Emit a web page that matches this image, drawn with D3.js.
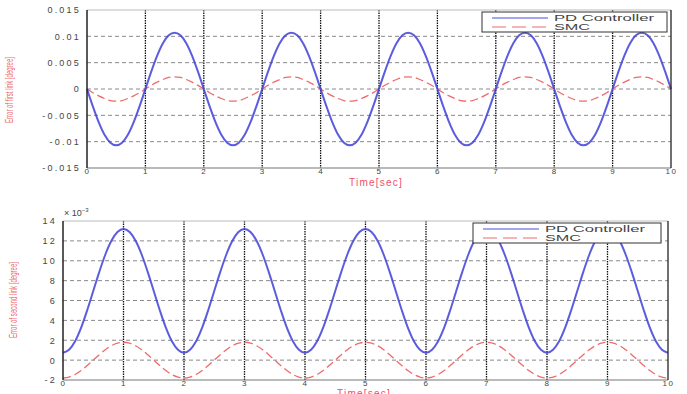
<!DOCTYPE html>
<html>
<head>
<meta charset="utf-8">
<script src="https://cdn.jsdelivr.net/npm/d3@7"></script>
<style>
  body { margin: 0; background: #fff; }
  svg text { font-family: "Liberation Sans", Arial, sans-serif; }
</style>
</head>
<body>
<script>
// time samples, 0..10 s step 0.1
var timeSec = d3.range(0, 101).map(function(i){ return i / 10; });

// error of first link (degree)
var pdLink1 = [
  0, -0.0033, -0.0063, -0.0087, -0.0102, -0.0107, -0.0102, -0.0087, -0.0063, -0.0033,
  0, 0.0033, 0.0063, 0.0087, 0.0102, 0.0107, 0.0102, 0.0087, 0.0063, 0.0033,
  0, -0.0033, -0.0063, -0.0087, -0.0102, -0.0107, -0.0102, -0.0087, -0.0063, -0.0033,
  0, 0.0033, 0.0063, 0.0087, 0.0102, 0.0107, 0.0102, 0.0087, 0.0063, 0.0033,
  0, -0.0033, -0.0063, -0.0087, -0.0102, -0.0107, -0.0102, -0.0087, -0.0063, -0.0033,
  0, 0.0033, 0.0063, 0.0087, 0.0102, 0.0107, 0.0102, 0.0087, 0.0063, 0.0033,
  0, -0.0033, -0.0063, -0.0087, -0.0102, -0.0107, -0.0102, -0.0087, -0.0063, -0.0033,
  0, 0.0033, 0.0063, 0.0087, 0.0102, 0.0107, 0.0102, 0.0087, 0.0063, 0.0033,
  0, -0.0033, -0.0063, -0.0087, -0.0102, -0.0107, -0.0102, -0.0087, -0.0063, -0.0033,
  0, 0.0033, 0.0063, 0.0087, 0.0102, 0.0107, 0.0102, 0.0087, 0.0063, 0.0033,
  0
];
var smcLink1 = [
  0, -0.0007, -0.0013, -0.0018, -0.0022, -0.0023, -0.0022, -0.0018, -0.0013, -0.0007,
  0, 0.0007, 0.0013, 0.0018, 0.0022, 0.0023, 0.0022, 0.0018, 0.0013, 0.0007,
  0, -0.0007, -0.0013, -0.0018, -0.0022, -0.0023, -0.0022, -0.0018, -0.0013, -0.0007,
  0, 0.0007, 0.0013, 0.0018, 0.0022, 0.0023, 0.0022, 0.0018, 0.0013, 0.0007,
  0, -0.0007, -0.0013, -0.0018, -0.0022, -0.0023, -0.0022, -0.0018, -0.0013, -0.0007,
  0, 0.0007, 0.0013, 0.0018, 0.0022, 0.0023, 0.0022, 0.0018, 0.0013, 0.0007,
  0, -0.0007, -0.0013, -0.0018, -0.0022, -0.0023, -0.0022, -0.0018, -0.0013, -0.0007,
  0, 0.0007, 0.0013, 0.0018, 0.0022, 0.0023, 0.0022, 0.0018, 0.0013, 0.0007,
  0, -0.0007, -0.0013, -0.0018, -0.0022, -0.0023, -0.0022, -0.0018, -0.0013, -0.0007,
  0, 0.0007, 0.0013, 0.0018, 0.0022, 0.0023, 0.0022, 0.0018, 0.0013, 0.0007,
  0
];

// error of second link (x 10^-3 degree)
var pdLink2 = [
  0.75, 1.05, 1.9, 3.27, 5.02, 6.95, 8.88, 10.63, 12.01, 12.89,
  13.2, 12.89, 12.01, 10.63, 8.88, 6.95, 5.02, 3.27, 1.9, 1.05,
  0.75, 1.05, 1.9, 3.27, 5.02, 6.95, 8.88, 10.63, 12.01, 12.89,
  13.2, 12.89, 12.01, 10.63, 8.88, 6.95, 5.02, 3.27, 1.9, 1.05,
  0.75, 1.05, 1.9, 3.27, 5.02, 6.95, 8.88, 10.63, 12.01, 12.89,
  13.2, 12.89, 12.01, 10.63, 8.88, 6.95, 5.02, 3.27, 1.9, 1.05,
  0.75, 1.05, 1.9, 3.27, 5.02, 6.95, 8.88, 10.63, 12.01, 12.89,
  13.2, 12.89, 12.01, 10.63, 8.88, 6.95, 5.02, 3.27, 1.9, 1.05,
  0.75, 1.05, 1.9, 3.27, 5.02, 6.95, 8.88, 10.63, 12.01, 12.89,
  13.2, 12.89, 12.01, 10.63, 8.88, 6.95, 5.02, 3.27, 1.9, 1.05,
  0.75
];
var smcLink2 = [
  -1.8, -1.7, -1.45, -1.05, -0.55, 0, 0.55, 1.05, 1.45, 1.7,
  1.8, 1.7, 1.45, 1.05, 0.55, 0, -0.55, -1.05, -1.45, -1.7,
  -1.8, -1.7, -1.45, -1.05, -0.55, 0, 0.55, 1.05, 1.45, 1.7,
  1.8, 1.7, 1.45, 1.05, 0.55, 0, -0.55, -1.05, -1.45, -1.7,
  -1.8, -1.7, -1.45, -1.05, -0.55, 0, 0.55, 1.05, 1.45, 1.7,
  1.8, 1.7, 1.45, 1.05, 0.55, 0, -0.55, -1.05, -1.45, -1.7,
  -1.8, -1.7, -1.45, -1.05, -0.55, 0, 0.55, 1.05, 1.45, 1.7,
  1.8, 1.7, 1.45, 1.05, 0.55, 0, -0.55, -1.05, -1.45, -1.7,
  -1.8, -1.7, -1.45, -1.05, -0.55, 0, 0.55, 1.05, 1.45, 1.7,
  1.8, 1.7, 1.45, 1.05, 0.55, 0, -0.55, -1.05, -1.45, -1.7,
  -1.8
];

var xTicks = [0, 1, 2, 3, 4, 5, 6, 7, 8, 9, 10];
var yTicks1 = [0.015, 0.01, 0.005, 0, -0.005, -0.01, -0.015];
var yTickLabels1 = ["0.015", "0.01", "0.005", "0", "-0.005", "-0.01", "-0.015"];
var yTicks2 = [14, 12, 10, 8, 6, 4, 2, 0, -2];
var legendNames = ["PD Controller", "SMC"];

var svg = d3.select("body").append("svg").attr("width", 687).attr("height", 394);

var drawPanel = function(cfg){
  var x = d3.scaleLinear().domain([0, 10]).range([cfg.left, cfg.right]);
  var y = d3.scaleLinear().domain(cfg.yDomain).range([cfg.bottom, cfg.top]);
  var g = svg.append("g");

  // horizontal dashed grid
  g.selectAll(".hgrid").data(cfg.yTicks.filter(function(v){ return v != cfg.yDomain[0] && v != cfg.yDomain[1]; }))
    .enter().append("line")
    .attr("x1", cfg.left).attr("x2", cfg.right)
    .attr("y1", function(d){ return y(d); }).attr("y2", function(d){ return y(d); })
    .style("stroke", "#8a8a8a").style("stroke-width", "1px").style("stroke-dasharray", "4,3");

  // vertical dotted grid
  g.selectAll(".vgrid").data(xTicks.slice(1, 10))
    .enter().append("line")
    .attr("x1", function(d){ return x(d); }).attr("x2", function(d){ return x(d); })
    .attr("y1", cfg.top).attr("y2", cfg.bottom)
    .style("stroke", "#111").style("stroke-width", "1.3px").style("stroke-dasharray", "1.5,1");

  var line = d3.line().x(function(d){ return x(d[0]); }).y(function(d){ return y(d[1]); }).curve(d3.curveMonotoneX);
  var pdPts = timeSec.map(function(t, i){ return [t, cfg.pd[i]]; });
  var smcPts = timeSec.map(function(t, i){ return [t, cfg.smc[i]]; });

  g.append("path").attr("d", line(smcPts))
    .style("fill", "none").style("stroke", "#f06a6a").style("stroke-width", "1.3px").style("stroke-dasharray", "8,4");
  g.append("path").attr("d", line(pdPts))
    .style("fill", "none").style("stroke", "#3f3fd8").style("stroke-width", "2px").style("opacity", 0.85);

  // box
  g.append("line").attr("x1", cfg.left).attr("x2", cfg.right).attr("y1", cfg.top).attr("y2", cfg.top)
    .style("stroke", "#bbb").style("stroke-width", "1px");
  g.append("line").attr("x1", cfg.left).attr("x2", cfg.right).attr("y1", cfg.bottom).attr("y2", cfg.bottom)
    .style("stroke", "#777").style("stroke-width", "1.2px");
  g.append("line").attr("x1", cfg.left).attr("x2", cfg.left).attr("y1", cfg.top).attr("y2", cfg.bottom)
    .style("stroke", "#222").style("stroke-width", "1.5px");
  g.append("line").attr("x1", cfg.right).attr("x2", cfg.right).attr("y1", cfg.top).attr("y2", cfg.bottom)
    .style("stroke", "#222").style("stroke-width", "1.3px");

  // axes labels via d3 axes
  var xAxis = d3.axisBottom(x).tickValues(xTicks).tickSize(0).tickPadding(0);
  var xg = g.append("g").attr("transform", "translate(0," + cfg.bottom + ")").call(xAxis);
  xg.select(".domain").remove();
  xg.selectAll("text").style("font-size", "8px").style("fill", "#444").style("letter-spacing", "1.5px");

  var yAxis = d3.axisLeft(y).tickValues(cfg.yTicks).tickSize(0).tickPadding(6)
    .tickFormat(function(d, i){ return cfg.yLabels[i]; });
  var yg = g.append("g").attr("transform", "translate(" + cfg.left + ",0)").call(yAxis);
  yg.select(".domain").remove();
  yg.selectAll("text").style("font-size", "9px").style("fill", "#444").style("letter-spacing", "2.2px");

  g.append("text").attr("x", cfg.xLabelX).attr("y", cfg.xLabelY)
    .attr("text-anchor", "middle").style("font-size", "10px").style("fill", "#f0506a")
    .style("letter-spacing", "1.2px").text("Time[sec]");

  g.append("text").attr("transform", "translate(" + cfg.yLabelX + "," + cfg.yLabelY + ") rotate(-90)")
    .attr("text-anchor", "middle").style("font-size", "10.5px").style("fill", "#f06a6a")
    .attr("textLength", cfg.yLabelLen).attr("lengthAdjust", "spacingAndGlyphs")
    .text(cfg.yLabel);

  // legend
  var lg = g.append("g");
  lg.append("rect").attr("x", cfg.legX).attr("y", cfg.legY).attr("width", cfg.legW).attr("height", 20)
    .style("fill", "#fff").style("stroke", "#333").style("stroke-width", "1px");
  legendNames.forEach(function(name, i){
    var ly = cfg.legY + 6 + i * 9;
    lg.append("line").attr("x1", cfg.legX + 10).attr("x2", cfg.legX + 66).attr("y1", ly).attr("y2", ly)
      .style("stroke", i == 0 ? "#4a4ae0" : "#f06a6a").style("stroke-width", "1.2px")
      .style("stroke-dasharray", i == 0 ? null : "14,6");
    lg.append("text").attr("x", cfg.legX + 72).attr("y", ly + 3)
      .style("font-size", "8.5px").style("fill", "#444")
      .attr("textLength", i == 0 ? 100 : 36).attr("lengthAdjust", "spacingAndGlyphs").text(name);
  });
  return g;
};

drawPanel({
  left: 87, right: 671, top: 10, bottom: 168,
  yDomain: [-0.015, 0.015], yTicks: yTicks1, yLabels: yTickLabels1,
  pd: pdLink1, smc: smcLink1,
  xLabelX: 376, xLabelY: 186, yLabel: "Error of first link [degree]", yLabelX: 13, yLabelY: 90, yLabelLen: 66,
  legX: 482, legY: 12, legW: 185
});

var g2 = drawPanel({
  left: 63, right: 668, top: 221, bottom: 380,
  yDomain: [-2, 14], yTicks: yTicks2, yLabels: yTicks2.map(String),
  pd: pdLink2, smc: smcLink2,
  xLabelX: 364, xLabelY: 397, yLabel: "Error of second link [degree]", yLabelX: 17, yLabelY: 300, yLabelLen: 76,
  legX: 473, legY: 223, legW: 188
});

var mult = g2.append("text").attr("x", 64).attr("y", 216).style("font-size", "9px").style("fill", "#444");
mult.append("tspan").text("\u00d7 10");
mult.append("tspan").attr("dy", -4).style("font-size", "6px").text("\u22123");
</script>
</body>
</html>
